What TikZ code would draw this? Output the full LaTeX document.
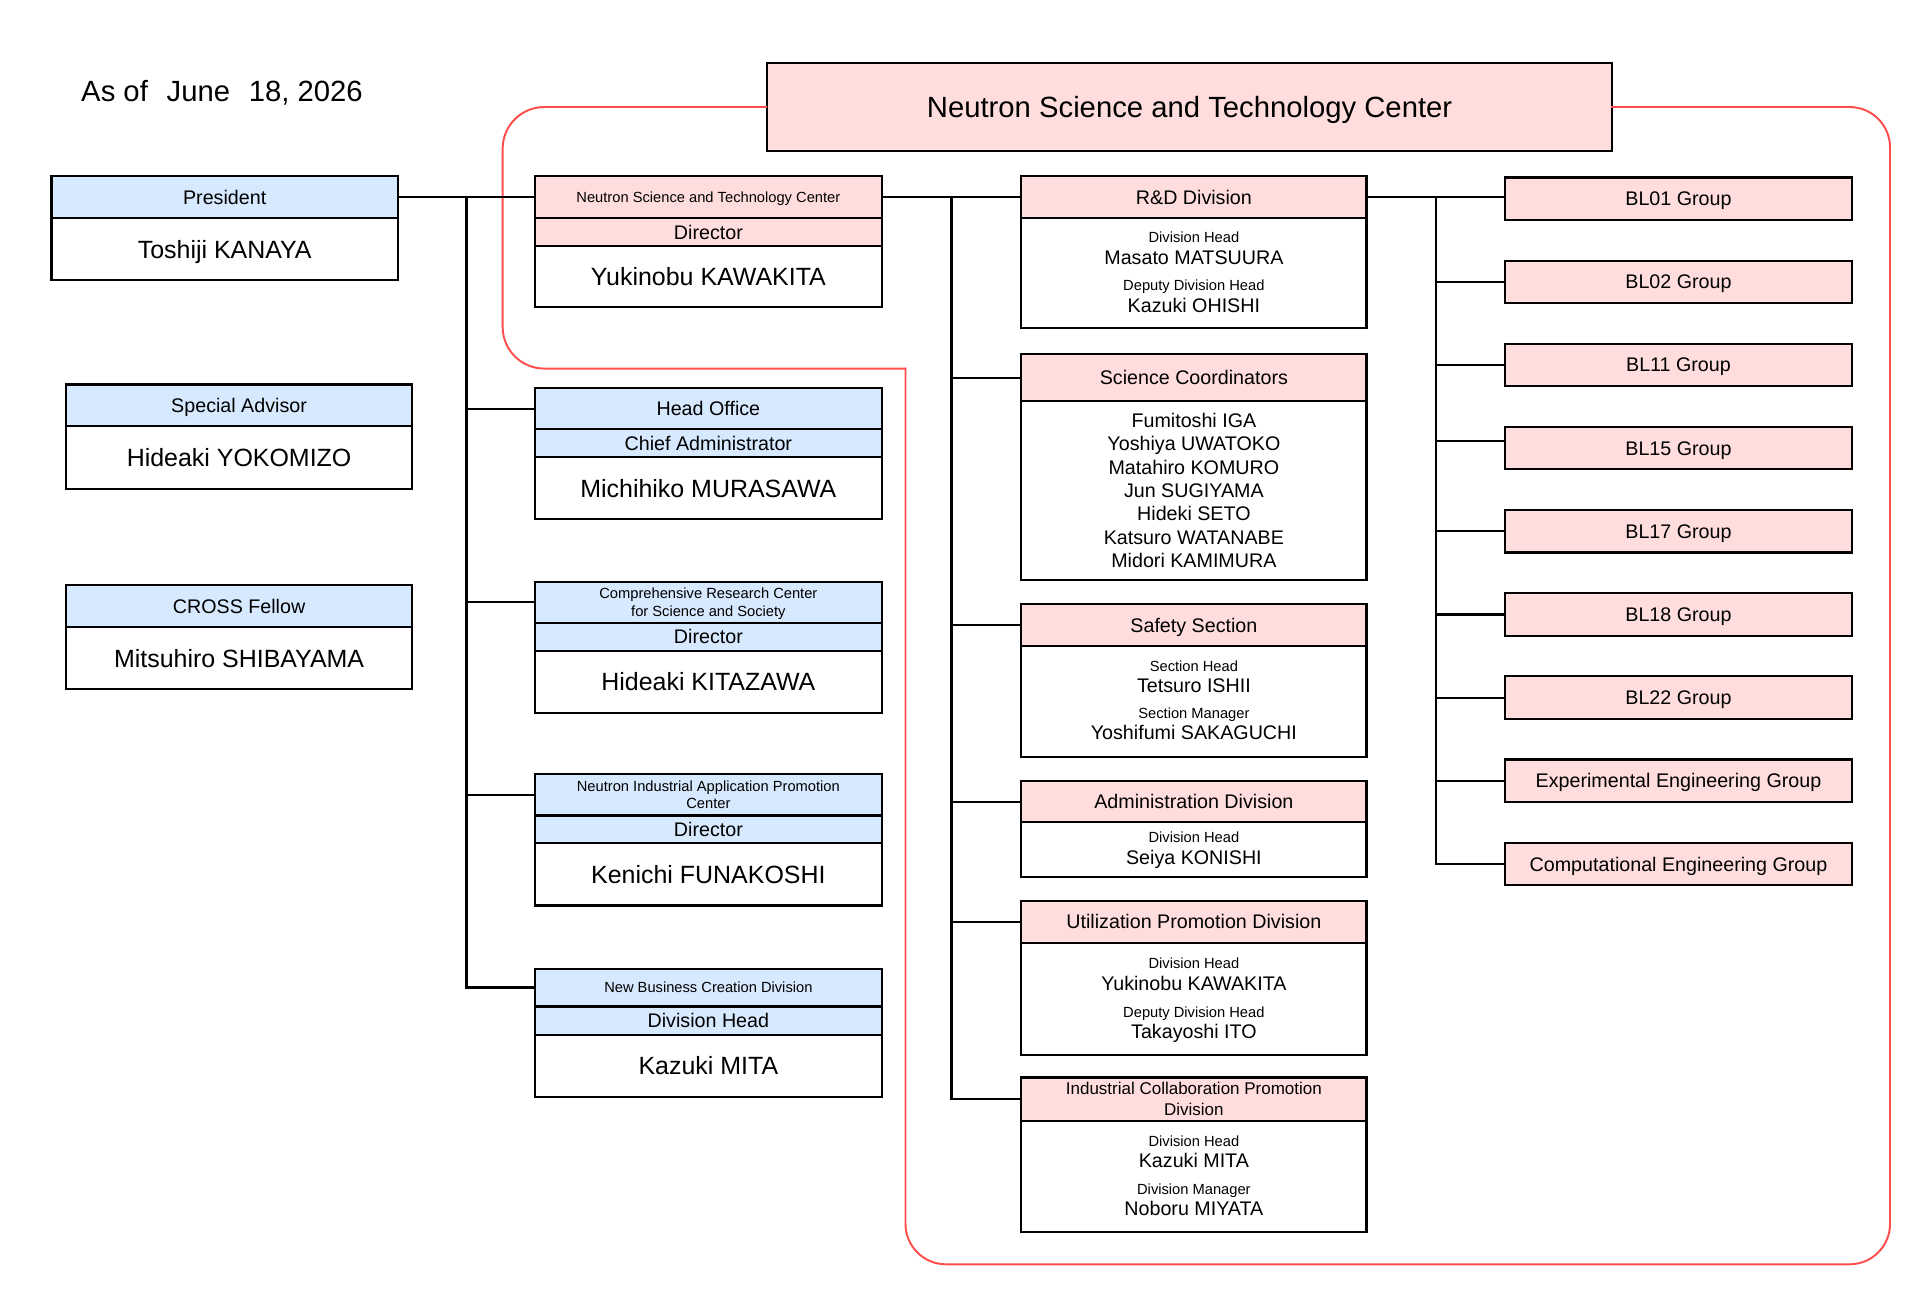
\documentclass[tikz,border=0pt]{standalone}
\usepackage{fontspec}
\setmainfont{Liberation Sans}
\usetikzlibrary{calc}
\definecolor{hblue}{HTML}{D6E9FE}
\definecolor{hpink}{HTML}{FFDDDD}
\definecolor{redl}{HTML}{FF4D4D}
\newcommand\ftbig{\fontsize{13.6}{16}\selectfont}
\newcommand\ftname{\fontsize{11.6}{14}\selectfont}
\newcommand\ftmid{\fontsize{9.15}{10.9}\selectfont}
\newcommand\ftsml{\fontsize{6.83}{8.2}\selectfont}
\newcommand\ftic{\fontsize{7.9}{9.7}\selectfont}
% name, fill, x1, y1, x2, y2, font, text
\newcommand\orgbox[8]{\node[cellbox,fill=#2,font=#7,minimum width={(#5-#3)*0.02cm},minimum height={(#6-#4)*0.02cm}] (#1) at ({(#3+#5)/2},{(#4+#6)/2}) {#8};}
\begin{document}
\begin{tikzpicture}[x=0.02cm,y=-0.02cm,
  cellbox/.style={draw,line width=1pt,inner sep=0pt,outer sep=0pt,align=center,text depth=0pt},
  conn/.style={line width=1pt,line cap=rect},
  redline/.style={draw=redl,line width=0.9pt},
  txt/.style={anchor=base,inner sep=0pt}]
\fill[white] (0,0) rectangle (1568,1058);
\useasboundingbox (0,0) rectangle (1568,1058);

% ---- title and date
\node[anchor=base west,inner sep=0pt,font=\ftbig] (asof) at (66,83) {As of\hspace{0.64em}June\hspace{0.64em}18, 2026};
\orgbox{title}{hpink}{626.5}{51.5}{1316.5}{123.3}{\ftbig}{Neutron Science and Technology Center}

% ---- red outline of the center
\draw[redline,rounded corners=0.68cm] (title.west) -- (410.5,87.4) -- (410.5,301) -- (739.5,301);
\draw[redline,rounded corners=0.66cm,line cap=rect] (739.5,301) -- (739.5,1032.5) -- (1543.5,1032.5) -- (1543.5,87.4) -- (title.east);

% ---- left-most column
\orgbox{presa}{hblue}{42}{144}{325}{178}{\ftmid}{President}
\orgbox{presb}{white}{42}{178}{325}{229}{\ftname}{Toshiji KANAYA}
\orgbox{spa}{hblue}{54}{314}{336.5}{348}{\ftmid}{Special Advisor}
\orgbox{spb}{white}{54}{348}{336.5}{399}{\ftname}{Hideaki YOKOMIZO}
\orgbox{cfa}{hblue}{54}{478}{336.5}{512}{\ftmid}{CROSS Fellow}
\orgbox{cfb}{white}{54}{512}{336.5}{563}{\ftname}{Mitsuhiro SHIBAYAMA}

% ---- second column
\orgbox{nsa}{hpink}{437}{144}{720}{178}{\ftsml}{Neutron Science and Technology Center}
\orgbox{nsb}{hpink}{437}{178}{720}{201}{\ftmid}{Director}
\orgbox{nsc}{white}{437}{201}{720}{251}{\ftname}{Yukinobu KAWAKITA}

\orgbox{hoa}{hblue}{437}{317}{720}{350.5}{\ftmid}{Head Office}
\orgbox{hob}{hblue}{437}{350.5}{720}{373}{\ftmid}{Chief Administrator}
\orgbox{hoc}{white}{437}{373}{720}{424}{\ftname}{Michihiko MURASAWA}

\orgbox{cra}{hblue}{437}{475}{720}{508.5}{\ftsml}{Comprehensive Research Center\\for Science and Society}
\orgbox{crb}{hblue}{437}{508.5}{720}{531.5}{\ftmid}{Director}
\orgbox{crc}{white}{437}{531.5}{720}{582}{\ftname}{Hideaki KITAZAWA}

\orgbox{nia}{hblue}{437}{632}{720}{666}{\ftsml}{Neutron Industrial Application Promotion\\Center}
\orgbox{nib}{hblue}{437}{666}{720}{688.5}{\ftmid}{Director}
\orgbox{nic}{white}{437}{688.5}{720}{739.5}{\ftname}{Kenichi FUNAKOSHI}

\orgbox{nba}{hblue}{437}{791}{720}{822}{\ftsml}{New Business Creation Division}
\orgbox{nbb}{hblue}{437}{822}{720}{845}{\ftmid}{Division Head}
\orgbox{nbc}{white}{437}{845}{720}{896}{\ftname}{Kazuki MITA}

% ---- third column
\orgbox{rda}{hpink}{834}{144}{1116}{178.3}{\ftmid}{R\&D Division}
\orgbox{rdb}{white}{834}{178.3}{1116}{268}{\ftmid}{}
\node[txt,font=\ftsml] (rd1) at (975,198.2) {Division Head};
\node[txt,font=\ftmid] (rd2) at (975,216.4) {Masato MATSUURA};
\node[txt,font=\ftsml] (rd3) at (975,237.4) {Deputy Division Head};
\node[txt,font=\ftmid] (rd4) at (975,255.3) {Kazuki OHISHI};

\orgbox{sca}{hpink}{834}{289}{1116}{327.8}{\ftmid}{Science Coordinators}
\orgbox{scb}{white}{834}{327.8}{1116}{474}{\ftmid}{}
\node[txt,font=\ftmid] (sc1) at (975,349.0) {Fumitoshi IGA};
\node[txt,font=\ftmid] (sc2) at (975,368.1) {Yoshiya UWATOKO};
\node[txt,font=\ftmid] (sc3) at (975,387.2) {Matahiro KOMURO};
\node[txt,font=\ftmid] (sc4) at (975,406.3) {Jun SUGIYAMA};
\node[txt,font=\ftmid] (sc5) at (975,425.4) {Hideki SETO};
\node[txt,font=\ftmid] (sc6) at (975,444.5) {Katsuro WATANABE};
\node[txt,font=\ftmid] (sc7) at (975,463.6) {Midori KAMIMURA};

\orgbox{ssa}{hpink}{834}{493.4}{1116}{527.6}{\ftmid}{Safety Section}
\orgbox{ssb}{white}{834}{527.6}{1116}{618}{\ftmid}{}
\node[txt,font=\ftsml] (ss1) at (975,548.0) {Section Head};
\node[txt,font=\ftmid] (ss2) at (975,565.4) {Tetsuro ISHII};
\node[txt,font=\ftsml] (ss3) at (975,587.0) {Section Manager};
\node[txt,font=\ftmid] (ss4) at (975,604.3) {Yoshifumi SAKAGUCHI};

\orgbox{ada}{hpink}{834}{638}{1116}{671.3}{\ftmid}{Administration Division}
\orgbox{adb}{white}{834}{671.3}{1116}{716.5}{\ftmid}{}
\node[txt,font=\ftsml] (ad1) at (975,688.2) {Division Head};
\node[txt,font=\ftmid] (ad2) at (975,705.9) {Seiya KONISHI};

\orgbox{uta}{hpink}{834}{735.5}{1116}{770}{\ftmid}{Utilization Promotion Division}
\orgbox{utb}{white}{834}{770}{1116}{861.3}{\ftmid}{}
\node[txt,font=\ftsml] (ut1) at (975,791.3) {Division Head};
\node[txt,font=\ftmid] (ut2) at (975,809.0) {Yukinobu KAWAKITA};
\node[txt,font=\ftsml] (ut3) at (975,830.8) {Deputy Division Head};
\node[txt,font=\ftmid] (ut4) at (975,848.3) {Takayoshi ITO};

\orgbox{ica}{hpink}{834}{880}{1116}{915.2}{\ftic}{Industrial Collaboration Promotion\\Division}
\orgbox{icb}{white}{834}{915.2}{1116}{1006}{\ftmid}{}
\node[txt,font=\ftsml] (ic1) at (975,935.9) {Division Head};
\node[txt,font=\ftmid] (ic2) at (975,953.6) {Kazuki MITA};
\node[txt,font=\ftsml] (ic3) at (975,975.4) {Division Manager};
\node[txt,font=\ftmid] (ic4) at (975,993.0) {Noboru MIYATA};

% ---- fourth column
\orgbox{bl1}{hpink}{1229}{145.0}{1512.5}{179.6}{\ftmid}{BL01 Group}
\orgbox{bl2}{hpink}{1229}{212.9}{1512.5}{247.5}{\ftmid}{BL02 Group}
\orgbox{bl3}{hpink}{1229}{280.8}{1512.5}{315.4}{\ftmid}{BL11 Group}
\orgbox{bl4}{hpink}{1229}{348.7}{1512.5}{383.3}{\ftmid}{BL15 Group}
\orgbox{bl5}{hpink}{1229}{416.6}{1512.5}{451.2}{\ftmid}{BL17 Group}
\orgbox{bl6}{hpink}{1229}{484.5}{1512.5}{519.1}{\ftmid}{BL18 Group}
\orgbox{bl7}{hpink}{1229}{552.4}{1512.5}{587.0}{\ftmid}{BL22 Group}
\orgbox{bl8}{hpink}{1229}{620.3}{1512.5}{654.9}{\ftmid}{Experimental Engineering Group}
\orgbox{bl9}{hpink}{1229}{688.2}{1512.5}{722.8}{\ftmid}{Computational Engineering Group}

% ---- connectors
\coordinate (j1) at (381,161);
\draw[conn] (presa.east) -- (nsa.west);
\draw[conn] (j1) -- (j1 |- nba.west);
\foreach \n in {hoa,cra,nia,nba} \draw[conn] (j1 |- \n.west) -- (\n.west);

\coordinate (j2) at (777,161);
\draw[conn] (nsa.east) -- (nsa.east -| rda.west);
\draw[conn] (j2) -- (j2 |- ica.west);
\foreach \n in {sca,ssa,ada,uta,ica} \draw[conn] (j2 |- \n.west) -- (\n.west);

\coordinate (j3) at (1173,161);
\draw[conn] (rda.east) -- (rda.east -| bl1.west);
\draw[conn] (j3) -- (j3 |- bl9.west);
\foreach \n in {bl2,bl3,bl5,bl6,bl7,bl8,bl9} \draw[conn] (j3 |- \n.west) -- (\n.west);
\coordinate (bl4c) at ([yshift=0.12cm]bl4.west);
\draw[conn] (j3 |- bl4c) -- (bl4c);
\end{tikzpicture}
\end{document}
